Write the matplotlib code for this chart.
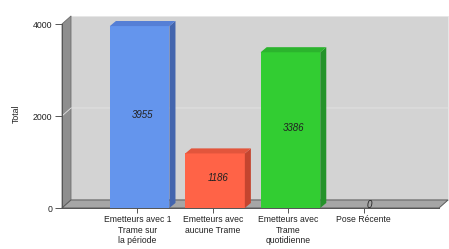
import numpy as np
import matplotlib
matplotlib.use("Agg")
import matplotlib.pyplot as plt
from matplotlib.patches import Polygon

plt.rcParams['font.family'] = ['Liberation Sans', 'DejaVu Sans']

categories = ["Emetteurs avec 1\nTrame sur\nla période",
              "Emetteurs avec\naucune Trame",
              "Emetteurs avec\nTrame\nquotidienne",
              "Pose Récente"]
values = [3955, 1186, 3386, 0]
front_colors = ["#6495ED", "#FF6347", "#32CD32", "#6495ED"]
side_colors = ["#4365AE", "#C4452F", "#24932A", "#4365AE"]
top_colors = ["#557FD6", "#E2553C", "#2BB42D", "#557FD6"]
yticks = [0, 2000, 4000]

# depth of the fake 3d walls and bars, in data units
WX, WY = 0.12, 175
BX, BY = 0.08, 110
XMIN, XMAX, YMAX = -1, 4, 4000

fig = plt.figure(figsize=(4.49, 2.49), dpi=100)
ax = fig.add_axes([62 / 449, 1 - 208 / 249, 377 / 449, 184 / 249])
ax.set_xlim(XMIN, XMAX)
ax.set_ylim(0, YMAX)
ax.patch.set_visible(False)

# walls
back = Polygon([(XMIN + WX, WY), (XMIN + WX, YMAX + WY), (XMAX + WX, YMAX + WY), (XMAX + WX, WY)],
               closed=True, facecolor="#D3D3D3", edgecolor="#E6E6E6", lw=0.6, clip_on=False, zorder=0)
left = Polygon([(XMIN, 0), (XMIN, YMAX), (XMIN + WX, YMAX + WY), (XMIN + WX, WY)],
               closed=True, facecolor="#8E8E8E", edgecolor="#6A6A6A", lw=0.6, clip_on=False, zorder=1)
floor = Polygon([(XMIN, 0), (XMIN + WX, WY), (XMAX + WX, WY), (XMAX, 0)],
                closed=True, facecolor="#A6A6A6", edgecolor="#5A5A5A", lw=0.7, clip_on=False, zorder=1)
for p in (back, left, floor):
    ax.add_patch(p)

# grid line at 2000
for t in yticks[1:-1]:
    ax.plot([XMIN, XMIN + WX, XMAX + WX], [t, t + WY, t + WY], color="#E4E4E4",
            lw=0.6, clip_on=False, zorder=1)

x = np.arange(len(categories))
bars = ax.bar(x + 0.03, values, width=0.79, color=front_colors, zorder=3)
for b, sc, tc, v in zip(bars, side_colors, top_colors, values):
    x0, w, h = b.get_x(), b.get_width(), b.get_height()
    if h <= 0:
        continue
    side = Polygon([(x0 + w, 0), (x0 + w, h), (x0 + w + BX, h + BY), (x0 + w + BX, BY)],
                   closed=True, facecolor=sc, edgecolor="none", zorder=3, clip_on=False)
    top = Polygon([(x0, h), (x0 + BX, h + BY), (x0 + w + BX, h + BY), (x0 + w, h)],
                  closed=True, facecolor=tc, edgecolor="none", zorder=3, clip_on=False)
    ax.add_patch(side)
    ax.add_patch(top)

for b, v in zip(bars, values):
    ax.text(b.get_x() + b.get_width() / 2 + BX / 2, v / 2 + BY / 2 + (20 if v == 0 else 0), str(v),
            ha="center", va="center", fontsize=7, style="italic", color="#222222", zorder=5)

ax.set_xticks(x)
ax.set_xticklabels(categories, fontsize=6.2, color="#222222", linespacing=1.25)
ax.set_yticks(yticks)
ax.set_yticklabels([str(t) for t in yticks], fontsize=6.3, color="#222222")
ax.tick_params(axis="x", length=3.5, width=0.7, color="#555555", pad=1.5)
ax.tick_params(axis="y", length=5, width=0.7, color="#555555", pad=2)
ax.set_ylabel("Total", fontsize=6.3, color="#222222")
ax.yaxis.set_label_coords(-0.11, 0.51)

for s in ("top", "right"):
    ax.spines[s].set_visible(False)
ax.spines["left"].set_color("#555555")
ax.spines["left"].set_linewidth(0.7)
ax.spines["bottom"].set_color("#555555")
ax.spines["bottom"].set_linewidth(0.7)

fig.savefig("out.png", dpi=100)
